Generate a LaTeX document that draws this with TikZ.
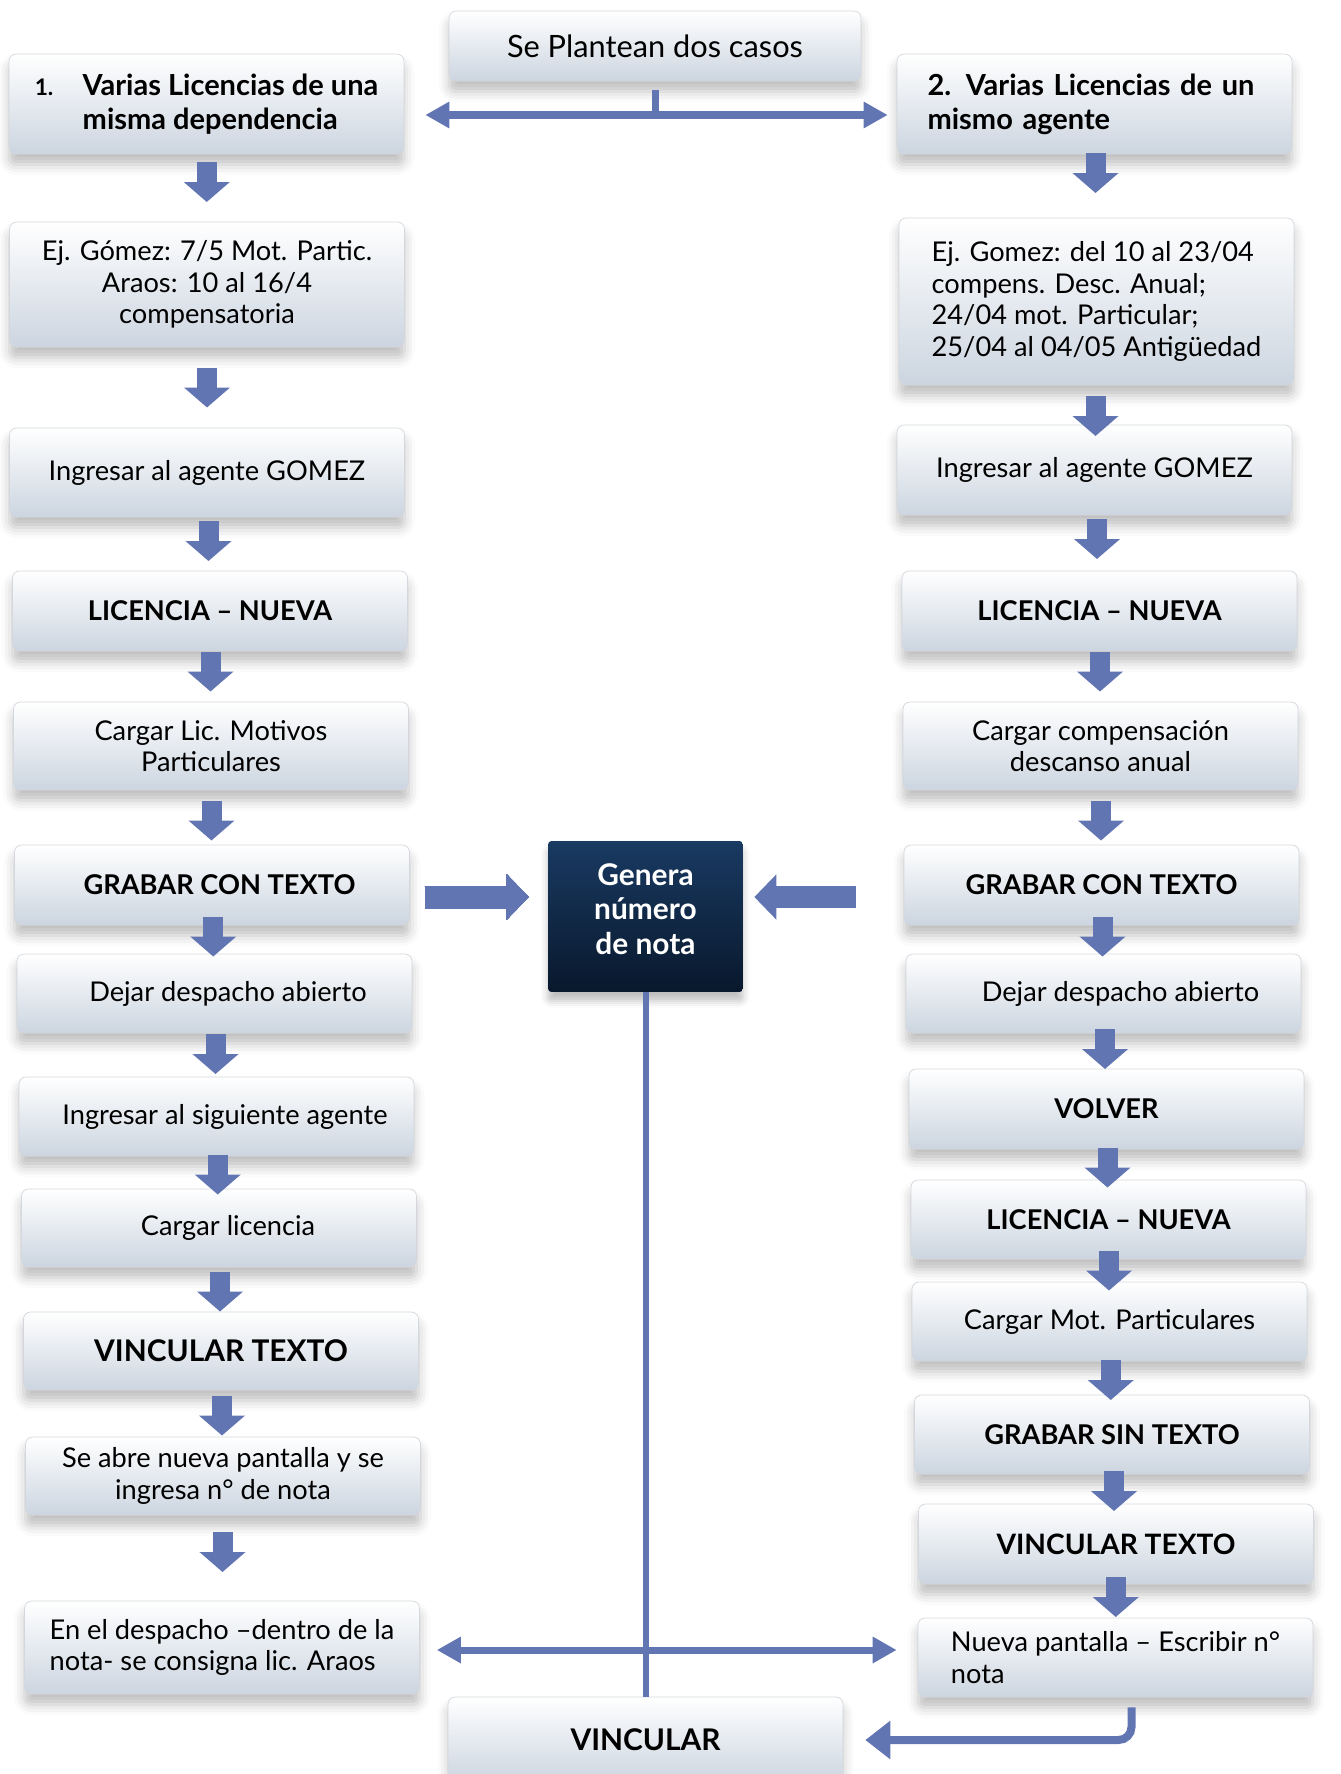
\documentclass[tikz,border=0pt]{standalone}
\usepackage{fontspec}
\setmainfont{Lato}
\usepackage{color}
\definecolor{myblue}{RGB}{98,117,179}
\definecolor{mygrey}{RGB}{204,213,224}
\definecolor{myline}{RGB}{212,216,222}
\definecolor{mynavytop}{RGB}{25,58,98}
\definecolor{mynavybot}{RGB}{9,24,44}
\usepackage{tikz}
\usetikzlibrary{arrows.meta,calc,shadows,shadows.blur,positioning}
\tikzstyle{box}=[draw=myline,rounded corners=4pt,top color=white,bottom color=mygrey,
  minimum width=7.9cm,minimum height=1.6cm,inner sep=0pt,align=center,
  font=\fontsize{15.5}{18}\selectfont,
  blur shadow={shadow xshift=0pt,shadow yshift=-6pt,shadow blur radius=6pt,shadow opacity=25}]
\tikzstyle{bbox}=[box,font=\fontsize{15.5}{18}\selectfont\bfseries]
\tikzstyle{genbox}=[draw=none,rounded corners=2pt,top color=mynavytop,bottom color=mynavybot,
  minimum width=3.9cm,minimum height=3.02cm,align=center,text=white,
  font=\fontsize{17}{19.6}\selectfont\bfseries,
  blur shadow={shadow xshift=0pt,shadow yshift=-5pt,shadow blur radius=4pt,shadow opacity=25}]
\tikzstyle{down}=[myblue,line width=0.4cm,-{Triangle[width=0.9cm,length=0.4cm]}]
\tikzstyle{side}=[myblue,line width=0.46cm,-{Triangle[width=0.88cm,length=0.44cm]}]
\tikzstyle{twoway}=[myblue,line width=0.15cm,{Triangle[width=0.5cm,length=0.48cm]}-{Triangle[width=0.5cm,length=0.48cm]}]
\tikzstyle{stem}=[myblue,line width=0.14cm]
\newcommand{\bajar}[3]{\draw[down] ($(#1.south)!.5!(#2.north)+(0,#3-20)$) -- ++(0,40);}
\begin{document}
\begin{tikzpicture}[x=0.02cm,y=-0.02cm]
\useasboundingbox (0,0) rectangle (1341,1774);
\clip (0,0) rectangle (1341,1774);
\node [box,minimum width=8.24cm,minimum height=1.4cm,font=\fontsize{17.5}{20}\selectfont] (plan) at (655,46) {Se Plantean dos casos};
\node [bbox,minimum height=2cm,align=left,font=\fontsize{16.5}{19.5}\selectfont\bfseries] (L1) at (206.5,104)
  {\makebox[0.96cm][l]{\fontsize{13}{15}\selectfont 1.}Varias Licencias de una\\\hspace*{0.96cm}misma dependencia};
\node [box,minimum height=2.5cm] (L2) at (207,284.5) {Ej. Gómez: 7/5 Mot. Partic.\\Araos: 10 al 16/4\\compensatoria};
\node [box,minimum height=1.78cm] (L3) at (207,472.5) {Ingresar al agente GOMEZ};
\node [bbox] (L4) at (210,611) {LICENCIA – NUEVA};
\node [box,minimum height=1.76cm] (L5) at (211,746) {Cargar Lic. Motivos\\Particulares};
\node [bbox] (L6) at (212,885) {\hspace*{0.3cm}GRABAR CON TEXTO};
\node [box,minimum height=1.58cm] (L7) at (214.5,993.5) {\hspace*{0.54cm}Dejar despacho abierto};
\node [box,minimum height=1.58cm] (L8) at (216.5,1116.5) {\hspace*{0.34cm}Ingresar al siguiente agente};
\node [box,minimum height=1.56cm] (L9) at (219,1228) {\hspace*{0.36cm}Cargar licencia};
\node [bbox,minimum height=1.56cm,font=\fontsize{17}{20}\selectfont\bfseries] (L10) at (221,1351) {VINCULAR TEXTO};
\node [box,minimum height=1.56cm] (L11) at (223,1476) {Se abre nueva pantalla y se\\ingresa n° de nota};
\node [box,minimum height=1.86cm,align=left] (L12) at (222,1647.5) {En el despacho –dentro de la\\nota- se consigna lic. Araos};
\node [bbox,minimum height=2cm,text width=6.68cm,align=left,font=\fontsize{16.5}{19.5}\selectfont\bfseries] (R1) at (1094.5,104)
  {\makebox[\linewidth][s]{2. Varias Licencias de un}\\mismo agente};
\node [box,minimum height=3.34cm,align=left] (R2) at (1096.5,301.5)
  {Ej. Gomez: del 10 al 23/04\\compens. Desc. Anual;\\24/04 mot. Particular;\\25/04 al 04/05 Antigüedad};
\node [box,minimum height=1.8cm] (R3) at (1094.5,470) {Ingresar al agente GOMEZ};
\node [bbox] (R4) at (1099.5,611) {LICENCIA – NUEVA};
\node [box,minimum height=1.76cm] (R5) at (1100.5,746) {Cargar compensación\\descanso anual};
\node [bbox] (R6) at (1101.5,885) {GRABAR CON TEXTO};
\node [box,minimum height=1.58cm] (R7) at (1103.5,993.5) {\hspace*{0.68cm}Dejar despacho abierto};
\node [bbox] (R8) at (1106.5,1109) {VOLVER};
\node [bbox,minimum height=1.58cm] (R9) at (1108.5,1219.5) {LICENCIA – NUEVA};
\node [box,minimum height=1.58cm] (R10) at (1109.5,1321.5) {Cargar Mot. Particulares};
\node [bbox,minimum height=1.58cm] (R11) at (1112,1434.5) {GRABAR SIN TEXTO};
\node [bbox,font=\fontsize{16}{19}\selectfont\bfseries] (R12) at (1116,1544) {VINCULAR TEXTO};
\node [box,minimum height=1.58cm,align=left] (R13) at (1115.5,1657.5) {Nueva pantalla – Escribir n°\\nota};
\node [genbox,text depth=0.3cm] (gen) at (645.5,916.5) {Genera\\número\\de nota};
\node [bbox,minimum height=1.72cm,font=\fontsize{17}{20}\selectfont\bfseries] (vinc) at (645.5,1740) {VINCULAR};
\coordinate (top) at (655,115);
\coordinate (mid) at (646,897);
\coordinate (bot) at (646,1650);
\draw[stem,shorten <=0.18cm] (plan.south) -- (top);
\draw[twoway,shorten <=0.42cm,shorten >=0.18cm] (L1.east |- top) -- (R1.west |- top);
\foreach \a/\b/\d in {L1/L2/-6,L2/L3/0,L3/L4/-3,L4/L5/-5,L5/L6/3,L6/L7/-3,L7/L8/-1,L8/L9/2,L9/L10/2,L10/L11/2,L11/L12/-6,
  R1/R2/-13,R2/R3/11,R3/R4/-4,R4/R5/-5,R5/R6/3,R6/R7/-3,R7/R8/-2,R8/R9/3,R9/R10/0,R10/R11/2,R11/R12/2,R12/R13/-4}
  \bajar{\a}{\b}{\d}
\draw[side,shorten <=0.3cm,shorten >=0.38cm] (L6.east |- mid) -- (gen.west |- mid);
\draw[side,line width=0.44cm,shorten <=0.96cm,shorten >=0.22cm] (R6.west |- mid) -- (gen.east |- mid);
\draw[stem,line width=0.12cm] (gen.south) -- (vinc.north);
\draw[twoway,line width=0.14cm,shorten <=0.34cm,shorten >=0.42cm] (L12.east |- bot) -- (R13.west |- bot);
\draw[myblue,line width=0.16cm,rounded corners=0.26cm,-{Triangle[width=0.74cm,length=0.5cm]},shorten >=0.44cm]
  ($(R13.south)+(16,10)$) |- (vinc.east);
\end{tikzpicture}
\end{document}
